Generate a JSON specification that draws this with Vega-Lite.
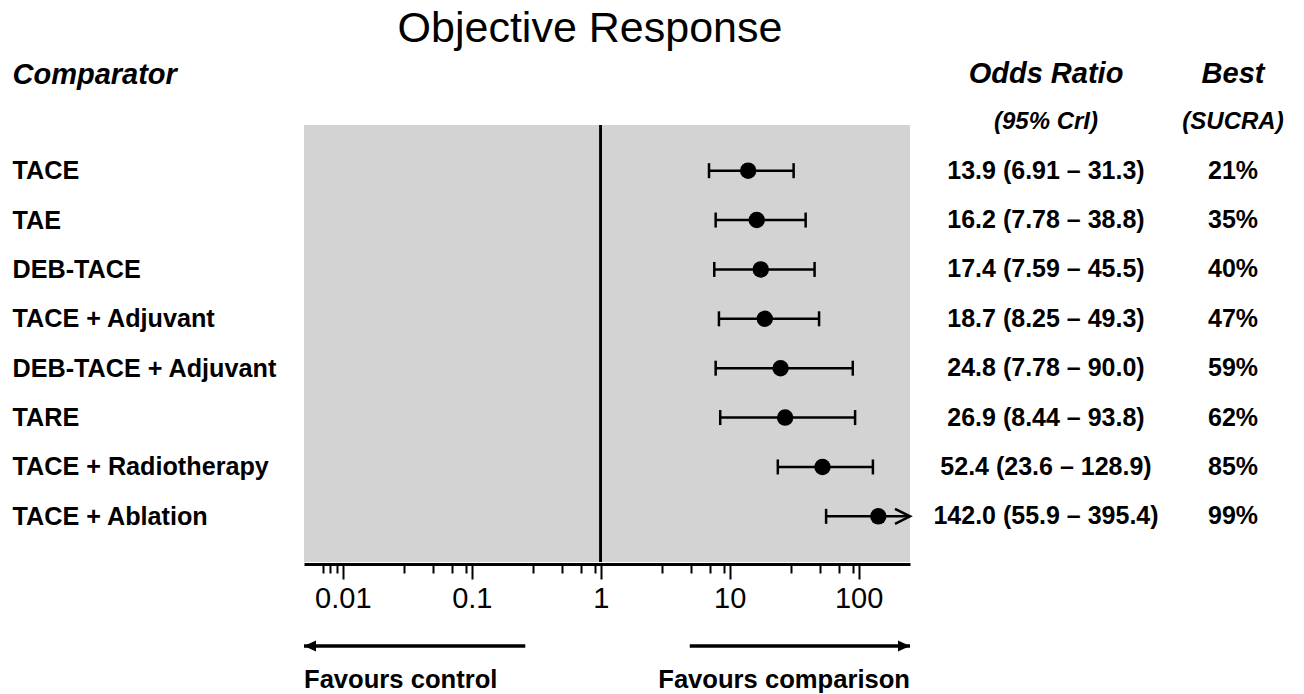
{
  "$schema": "https://vega.github.io/schema/vega-lite/v6.json",
  "autosize": {"type": "pad"},
  "padding": {"left": 12, "top": 8, "right": 0, "bottom": 0},
  "background": "white",
  "config": {
    "font": "Liberation Sans",
    "view": {"stroke": null},
    "title": {"color": "black", "subtitleColor": "black"}
  },
  "datasets": {
    "rows": [
      {"comparator": "TACE", "or": 13.9, "lo": 6.91, "hi": 31.3, "ci": "13.9 (6.91 – 31.3)", "sucra": 0.21},
      {"comparator": "TAE", "or": 16.2, "lo": 7.78, "hi": 38.8, "ci": "16.2 (7.78 – 38.8)", "sucra": 0.35},
      {"comparator": "DEB-TACE", "or": 17.4, "lo": 7.59, "hi": 45.5, "ci": "17.4 (7.59 – 45.5)", "sucra": 0.40},
      {"comparator": "TACE + Adjuvant", "or": 18.7, "lo": 8.25, "hi": 49.3, "ci": "18.7 (8.25 – 49.3)", "sucra": 0.47},
      {"comparator": "DEB-TACE + Adjuvant", "or": 24.8, "lo": 7.78, "hi": 90.0, "ci": "24.8 (7.78 – 90.0)", "sucra": 0.59},
      {"comparator": "TARE", "or": 26.9, "lo": 8.44, "hi": 93.8, "ci": "26.9 (8.44 – 93.8)", "sucra": 0.62},
      {"comparator": "TACE + Radiotherapy", "or": 52.4, "lo": 23.6, "hi": 128.9, "ci": "52.4 (23.6 – 128.9)", "sucra": 0.85},
      {"comparator": "TACE + Ablation", "or": 142.0, "lo": 55.9, "hi": 395.4, "ci": "142.0 (55.9 – 395.4)", "sucra": 0.99}
    ],
    "favour": [
      {"side": "control", "from": 0.005, "to": 0.26, "label": "Favours control"},
      {"side": "comparison", "from": 4.9, "to": 250, "label": "Favours comparison"}
    ]
  },
  "bounds": "flush",
  "columns": 3,
  "spacing": {"row": 64, "column": 0},
  "concat": [
    {
      "width": 606,
      "height": 437,
      "view": {"fill": "#d3d3d3", "stroke": null},
      "title": {"text": "Objective Response", "fontSize": 43, "fontWeight": "normal", "offset": 9, "dx": -17},
      "data": {"name": "rows"},
      "layer": [
        {
          "mark": {"type": "rule", "color": "black", "strokeWidth": 2},
          "encoding": {"x": {"datum": 1, "type": "quantitative"}}
        },
        {
          "mark": {"type": "rule", "color": "black", "strokeWidth": 2.5, "clip": true},
          "encoding": {
            "x": {
              "field": "lo", "type": "quantitative",
              "scale": {"type": "log", "domain": [0.005, 250], "nice": false},
              "axis": {
                "title": null,
                "grid": false,
                "values": [0.007, 0.008, 0.009, 0.01, 0.03, 0.05, 0.07, 0.09, 0.1, 0.3, 0.5, 0.7, 0.9, 1, 3, 5, 7, 9, 10, 30, 50, 70, 90, 100],
                "format": "~g",
                "labelExpr": "(datum.value == 0.01 || datum.value == 0.1 || datum.value == 1 || datum.value == 10 || datum.value == 100) ? datum.label : ''",
                "tickSize": {"condition": {"test": "datum.value == 0.01 || datum.value == 0.1 || datum.value == 1 || datum.value == 10 || datum.value == 100", "value": 15}, "value": 9},
                "tickWidth": 2,
                "tickColor": "black",
                "domainColor": "black",
                "domainWidth": 3,
                "labelFontSize": 29,
                "labelColor": "black",
                "labelPadding": 5,
                "labelOverlap": false,
                "labelFlush": false,
                "offset": 2
              }
            },
            "x2": {"field": "hi"},
            "y": {
              "field": "comparator", "type": "nominal", "sort": null,
              "scale": {"type": "point", "padding": 0.925},
              "axis": {
                "title": "Comparator",
                "titleAngle": 0,
                "titleAlign": "left",
                "titleBaseline": "alphabetic",
                "titleX": -292,
                "titleY": -42,
                "titleFontSize": 29,
                "titleFontStyle": "italic",
                "titleFontWeight": "bold",
                "titleColor": "black",
                "labelAlign": "left",
                "labelBaseline": "middle",
                "labelPadding": 292,
                "labelFontSize": 25.2,
                "labelFontWeight": "bold",
                "labelColor": "black",
                "labelLimit": 400,
                "ticks": false,
                "domain": false
              }
            }
          }
        },
        {
          "mark": {"type": "tick", "color": "black", "thickness": 2.5, "size": 15, "clip": true, "opacity": 1},
          "encoding": {
            "x": {"field": "lo", "type": "quantitative"},
            "y": {"field": "comparator", "type": "nominal", "sort": null}
          }
        },
        {
          "mark": {"type": "tick", "color": "black", "thickness": 2.5, "size": 15, "clip": true, "opacity": 1},
          "encoding": {
            "x": {"field": "hi", "type": "quantitative"},
            "y": {"field": "comparator", "type": "nominal", "sort": null}
          }
        },
        {
          "mark": {"type": "point", "shape": "circle", "filled": true, "color": "black", "size": 270, "opacity": 1},
          "encoding": {
            "x": {"field": "or", "type": "quantitative"},
            "y": {"field": "comparator", "type": "nominal", "sort": null}
          }
        },
        {
          "transform": [{"filter": "datum.hi > 250"}],
          "mark": {"type": "point", "shape": "M-2,-1L0,0L-2,1", "filled": false, "stroke": "black", "strokeWidth": 2.5, "size": 225, "opacity": 1},
          "encoding": {
            "x": {"datum": 250, "type": "quantitative"},
            "y": {"field": "comparator", "type": "nominal", "sort": null}
          }
        }
      ]
    },
    {
      "width": 272,
      "height": 437,
      "title": {"text": "Odds Ratio", "subtitle": "(95% CrI)", "fontSize": 29, "fontStyle": "italic", "fontWeight": "bold", "subtitleFontSize": 24, "subtitleFontStyle": "italic", "subtitleFontWeight": "bold", "subtitlePadding": 21, "offset": -9},
      "data": {"name": "rows"},
      "mark": {"type": "text", "fontSize": 25, "fontWeight": "bold", "color": "black"},
      "encoding": {
        "y": {"field": "comparator", "type": "nominal", "sort": null, "scale": {"type": "point", "padding": 0.925}, "axis": null},
        "text": {"field": "ci", "type": "nominal"}
      }
    },
    {
      "width": 102,
      "height": 437,
      "title": {"text": "Best", "subtitle": "(SUCRA)", "fontSize": 29, "fontStyle": "italic", "fontWeight": "bold", "subtitleFontSize": 24, "subtitleFontStyle": "italic", "subtitleFontWeight": "bold", "subtitlePadding": 21, "offset": -9},
      "data": {"name": "rows"},
      "mark": {"type": "text", "fontSize": 25, "fontWeight": "bold", "color": "black"},
      "encoding": {
        "y": {"field": "comparator", "type": "nominal", "sort": null, "scale": {"type": "point", "padding": 0.925}, "axis": null},
        "text": {"field": "sucra", "type": "quantitative", "format": ".0%"}
      }
    },
    {
      "width": 606,
      "height": 40,
      "data": {"name": "favour"},
      "layer": [
        {
          "mark": {"type": "rule", "color": "black", "strokeWidth": 3.5},
          "encoding": {
            "x": {"field": "from", "type": "quantitative", "scale": {"type": "log", "domain": [0.005, 250], "nice": false}, "axis": null},
            "x2": {"field": "to"}
          }
        },
        {
          "transform": [{"filter": "datum.side == 'control'"}],
          "mark": {"type": "point", "shape": "M0,0L2,-0.9L2,0.9Z", "filled": true, "color": "black", "size": 144, "opacity": 1},
          "encoding": {"x": {"field": "from", "type": "quantitative"}}
        },
        {
          "transform": [{"filter": "datum.side == 'comparison'"}],
          "mark": {"type": "point", "shape": "M0,0L-2,-0.9L-2,0.9Z", "filled": true, "color": "black", "size": 144, "opacity": 1},
          "encoding": {"x": {"field": "to", "type": "quantitative"}}
        },
        {
          "transform": [{"filter": "datum.side == 'control'"}],
          "mark": {"type": "text", "align": "left", "baseline": "middle", "dy": 34, "fontSize": 25.6, "fontWeight": "bold", "color": "black"},
          "encoding": {"x": {"field": "from", "type": "quantitative"}, "text": {"field": "label"}}
        },
        {
          "transform": [{"filter": "datum.side == 'comparison'"}],
          "mark": {"type": "text", "align": "right", "baseline": "middle", "dy": 34, "fontSize": 25.6, "fontWeight": "bold", "color": "black"},
          "encoding": {"x": {"field": "to", "type": "quantitative"}, "text": {"field": "label"}}
        }
      ]
    }
  ]
}
